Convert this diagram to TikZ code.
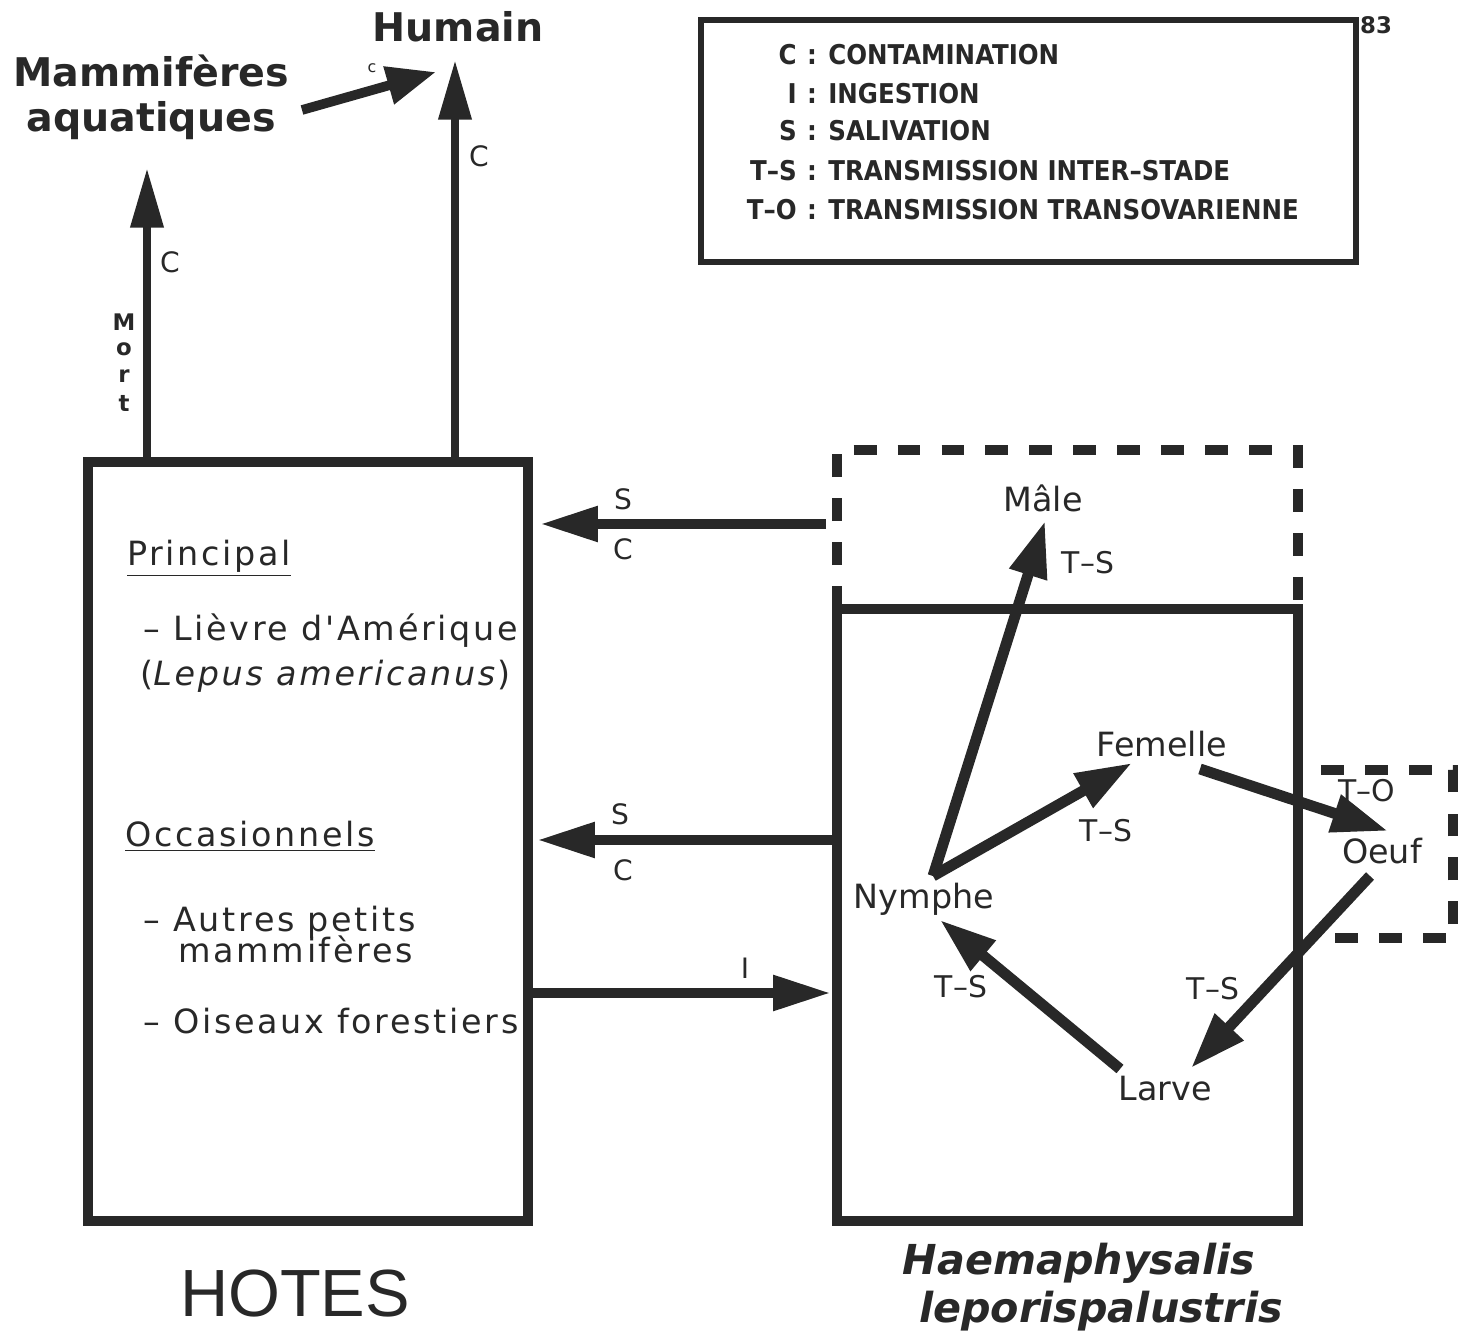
\documentclass[tikz,border=0pt]{standalone}
\usepackage{fontspec}
\setmainfont{DejaVu Sans}
\newfontfamily\gen{DejaVu Sans}[LetterSpace=8]
\newfontfamily\cond{DejaVu Sans Condensed}
\newfontfamily\helv{Liberation Sans}
\usetikzlibrary{arrows.meta}
\definecolor{ink}{RGB}{40,40,40}
\begin{document}
\begin{tikzpicture}[x=0.02cm,y=-0.02cm,
  box/.style={draw=ink, line width=5.5pt, inner sep=0pt, rectangle},
  legbox/.style={draw=ink, line width=3.5pt, inner sep=0pt, rectangle},
  dashbox/.style={draw=ink, line width=5.5pt, dash pattern=on 13pt off 12pt},
  varrow/.style={draw=ink, line width=4.8pt, -{Triangle[length=34pt,width=18pt]}},
  harrow/.style={draw=ink, line width=6pt, -{Triangle[length=33pt,width=19pt]}},
  cyc/.style={draw=ink, line width=6.2pt, -{Triangle[length=32pt,width=21pt]}},
  mamarrow/.style={draw=ink, line width=5.5pt, -{Triangle[length=28pt,width=21pt]}},
  leg/.style={text=ink, font=\cond\bfseries\fontsize{15.5}{15.5}\selectfont, inner sep=0pt},
  lbl/.style={text=ink, font=\fontsize{16}{16}\selectfont, inner sep=0pt},
  tlbl/.style={text=ink, font=\fontsize{17}{17}\selectfont, inner sep=0pt},
  stage/.style={text=ink, font=\fontsize{19}{19}\selectfont, inner sep=0pt},
  hostxt/.style={text=ink, font=\gen\fontsize{19}{19}\selectfont, inner sep=0pt, anchor=base west},
  mortl/.style={text=ink, font=\bfseries\fontsize{13}{13}\selectfont, inner sep=0pt},
  big/.style={text=ink, font=\bfseries\fontsize{22.5}{22.5}\selectfont, inner sep=0pt}
]
\useasboundingbox (0,0) rectangle (1465,1337);

% ---------- boxes ----------
\node[box, minimum width=8.8cm, minimum height=15.18cm] (hotes) at (308,841.5) {};
\node[box, minimum width=9.22cm, minimum height=12.24cm] (tique) at (1067.5,915) {};
\node[legbox, minimum width=13.1cm, minimum height=4.84cm] (legende) at (1028.5,141) {};

% dashed boxes
\draw[dashbox] (837,609) -- (837,450) -- (1298,450) -- (1298,609);
\draw[dashbox] (1335,938) -- (1453,938) -- (1453,770) -- (1305,770);

% ---------- legend ----------
\node[text=ink, font=\bfseries\fontsize{13}{13}\selectfont, inner sep=0pt] (page) at (1376,25) {83};
\node[leg, anchor=base east] (k1) at (797,65) {C};
\node[leg, anchor=base] (c1) at (812,65) {:};
\node[leg, anchor=base west] (d1) at (828,65) {CONTAMINATION};
\node[leg, anchor=base east] (k2) at (797,104) {I};
\node[leg, anchor=base] (c2) at (812,104) {:};
\node[leg, anchor=base west] (d2) at (828,104) {INGESTION};
\node[leg, anchor=base east] (k3) at (797,141) {S};
\node[leg, anchor=base] (c3) at (812,141) {:};
\node[leg, anchor=base west] (d3) at (828,141) {SALIVATION};
\node[leg, anchor=base east] (k4) at (797,181) {T–S};
\node[leg, anchor=base] (c4) at (812,181) {:};
\node[leg, anchor=base west] (d4) at (828,181) {TRANSMISSION INTER–STADE};
\node[leg, anchor=base east] (k5) at (797,220) {T–O};
\node[leg, anchor=base] (c5) at (812,220) {:};
\node[leg, anchor=base west] (d5) at (828,220) {TRANSMISSION TRANSOVARIENNE};

% ---------- top labels ----------
\node[big] (humain) at (458,27) {Humain};
\node[big, align=center] (mam) at (151,97) {Mammifères\\[3pt]aquatiques};

\coordinate (mamstart) at (302,110);
\coordinate (mamtip) at (436,72);
\draw[mamarrow] (mamstart) -- (mamtip);
\node[text=ink, font=\fontsize{9}{9}\selectfont, inner sep=0pt] (cmam) at (372,68) {c};

\coordinate (mortbase) at (147,462);
\coordinate (morttip) at (147,168);
\draw[varrow] (mortbase) -- (morttip);
\node[lbl] (cmort) at (170,262) {C};
\node[mortl] (mortM) at (124,322) {M};
\node[mortl] (morto) at (124,349) {o};
\node[mortl] (mortr) at (124,376) {r};
\node[mortl] (mortt) at (124,403) {t};

\coordinate (humbase) at (455,462);
\coordinate (humtip) at (455,60);
\draw[varrow] (humbase) -- (humtip);
\node[lbl] (chum) at (479,156) {C};

% ---------- host texts ----------
\node[hostxt] (princ) at (127,566) {\underline{Principal}};
\node[hostxt] (lievre) at (143,641) {– Lièvre d'Amérique};
\node[hostxt] (lepus) at (140,686) {(\textit{Lepus americanus})};
\node[hostxt] (occas) at (125,847) {\underline{Occasionnels}};
\node[hostxt] (autres) at (143,932) {– Autres petits};
\node[hostxt] (mammi) at (178,963) {mammifères};
\node[hostxt] (oiseaux) at (143,1033) {– Oiseaux forestiers};

% ---------- host / tick arrows ----------
\coordinate (a1s) at (826,524);
\coordinate (a1t) at (540,524);
\draw[harrow] (a1s) -- (a1t);
\node[lbl] (s1) at (623,499) {S};
\node[lbl] (cc1) at (623,549) {C};

\coordinate (a2s) at (836,840);
\coordinate (a2t) at (537,840);
\draw[harrow] (a2s) -- (a2t);
\node[lbl] (s2) at (620,814) {S};
\node[lbl] (cc2) at (623,870) {C};

\coordinate (a3s) at (528,993);
\coordinate (a3t) at (831,993);
\draw[harrow] (a3s) -- (a3t);
\node[lbl] (i3) at (745,968) {I};

% ---------- tick cycle ----------
\node[stage] (male) at (1043,498) {Mâle};
\node[stage] (femelle) at (1162,744) {Femelle};
\node[stage] (oeuf) at (1382,851) {Oeuf};
\node[stage] (nymphe) at (924,899) {Nymphe};
\node[stage] (larve) at (1165,1089) {Larve};

\coordinate (nj) at (933,876);
\coordinate (maletip) at (1045,521);
\coordinate (femtip) at (1132,763);
\coordinate (femout) at (1200,769);
\coordinate (oeuftip) at (1388,831);
\coordinate (oeufout) at (1370,876);
\coordinate (larvetip) at (1191,1068);
\coordinate (larveout) at (1120,1069);
\coordinate (nymtip) at (940,920);

\draw[cyc] (nj) -- (maletip);
\draw[cyc] (nj) -- (femtip);
\draw[cyc] (femout) -- (oeuftip);
\draw[cyc] (oeufout) -- (larvetip);
\draw[cyc] (larveout) -- (nymtip);

\node[tlbl] (ts1) at (1088,563) {T–S};
\node[tlbl] (ts2) at (1106,831) {T–S};
\node[tlbl] (to) at (1367,791) {T–O};
\node[tlbl] (ts3) at (961,987) {T–S};
\node[tlbl] (ts4) at (1213,989) {T–S};

% ---------- titles ----------
\node[text=ink, font=\helv\fontsize{38}{38}\selectfont, inner sep=0pt] (hotestitle) at (295,1294) {HOTES};
\node[text=ink, font=\bfseries\itshape\fontsize{23.5}{23.5}\selectfont, inner sep=0pt] (haema) at (1079,1263) {Haemaphysalis};
\node[text=ink, font=\bfseries\itshape\fontsize{23.5}{23.5}\selectfont, inner sep=0pt] (lepor) at (1101,1311) {leporispalustris};
\end{tikzpicture}
\end{document}
